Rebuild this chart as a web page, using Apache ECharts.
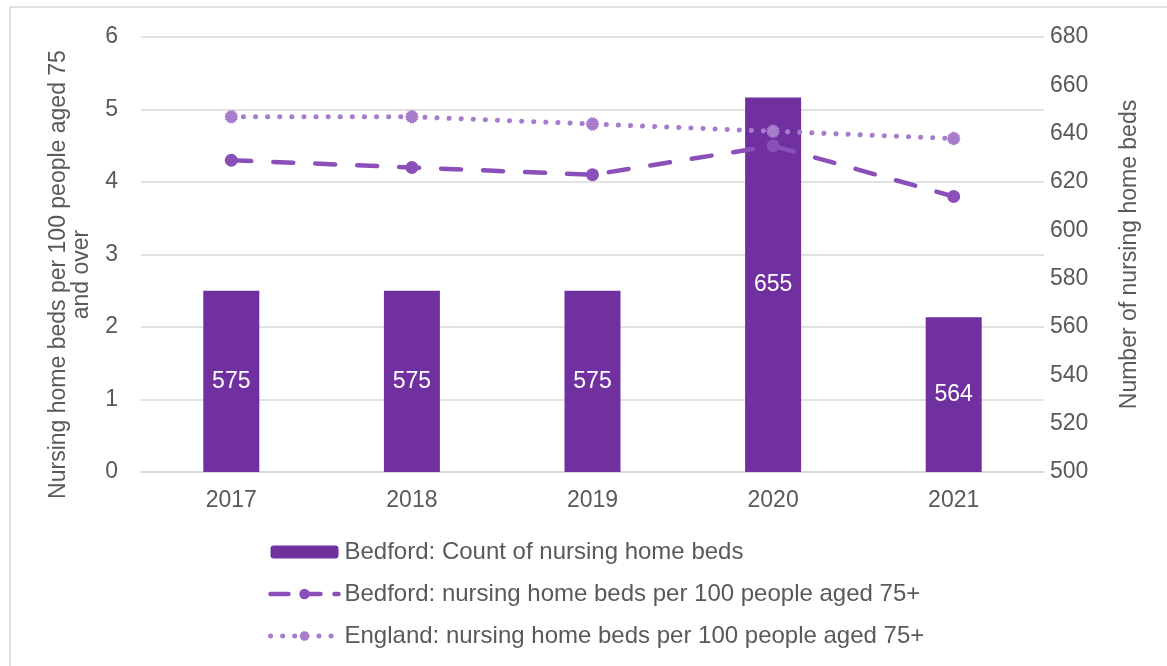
<!DOCTYPE html>
<html>
<head>
<meta charset="utf-8">
<script src="https://cdn.jsdelivr.net/npm/echarts@6/dist/echarts.min.js"></script>
<style>
  body { margin: 0; background: #fff; }
</style>
</head>
<body>
<div id="chart" style="width:1167px;height:666px;"></div>
<script>
const years = ["2017", "2018", "2019", "2020", "2021"];
const bedfordCount = [575, 575, 575, 655, 564];
const bedfordRate = [4.3, 4.2, 4.1, 4.5, 3.8];
const englandRate = [4.9, 4.9, 4.8, 4.7, 4.6];

const labelColor = "#595959";
const gridColor = "#d9d9d9";
const font = "Liberation Sans, Arial, sans-serif";
const bedfordColor = "#8B4FBA";
const englandColor = "#A87CCC";

// spiky round marker like the one used for England
function spikyPath() {
  let d = "";
  const n = 14;
  for (let i = 0; i < n * 2; i++) {
    const r = i % 2 === 0 ? 10 : 8.2;
    const a = (Math.PI * i) / n;
    d += (i === 0 ? "M" : "L") + (10 + r * Math.cos(a)).toFixed(2) + "," + (10 + r * Math.sin(a)).toFixed(2);
  }
  return "path://" + d + "Z";
}
const spiky = spikyPath();

const myChart = echarts.init(document.getElementById("chart"));

const option = {
  animation: false,
  textStyle: { fontFamily: font },
  graphic: [
    {
      type: "rect",
      shape: { x: 10, y: 7, width: 1300, height: 800 },
      style: { fill: "none", stroke: gridColor, lineWidth: 1.5 },
      silent: true
    }
  ],
  grid: { left: 141, right: 123, top: 37, bottom: 194, outerBoundsMode: "none", containLabel: false },
  legend: {
    orient: "vertical",
    left: 268,
    top: 540,
    padding: 0,
    itemWidth: 68,
    itemHeight: 13,
    itemGap: 18,
    textStyle: { color: labelColor, fontSize: 24, fontFamily: font, padding: [0, 0, 0, 1] },
    data: [
      { name: "Bedford: Count of nursing home beds" },
      {
        name: "Bedford: nursing home beds per 100 people aged 75+",
        lineStyle: { width: 4.5, type: [18, 14], cap: "round", color: bedfordColor }
      },
      {
        name: "England: nursing home beds per 100 people aged 75+",
        lineStyle: { width: 5, type: [0.1, 12], cap: "round", color: englandColor }
      }
    ]
  },
  xAxis: {
    type: "category",
    data: years,
    axisLine: { lineStyle: { color: gridColor, width: 1.5 } },
    axisTick: { show: false },
    axisLabel: { color: labelColor, fontSize: 23, margin: 17 }
  },
  yAxis: [
    {
      type: "value",
      min: 0,
      max: 6,
      interval: 1,
      name: "Nursing home beds per 100 people aged 75\nand over",
      nameLocation: "middle",
      nameGap: 48,
      nameTextStyle: { color: labelColor, fontSize: 23, lineHeight: 23, padding: [0, 40, 0, 0] },
      axisLine: { show: false },
      axisTick: { show: false },
      axisLabel: { color: labelColor, fontSize: 23, margin: 23 },
      splitLine: { lineStyle: { color: gridColor, width: 1.5 } }
    },
    {
      type: "value",
      min: 500,
      max: 680,
      interval: 20,
      name: "Number of nursing home beds",
      nameLocation: "middle",
      nameGap: 74,
      nameTextStyle: { color: labelColor, fontSize: 23 },
      axisLine: { show: false },
      axisTick: { show: false },
      axisLabel: { color: labelColor, fontSize: 23, margin: 6 },
      splitLine: { show: false }
    }
  ],
  series: [
    {
      name: "Bedford: Count of nursing home beds",
      type: "bar",
      yAxisIndex: 1,
      data: bedfordCount,
      barWidth: 56,
      itemStyle: { color: "#7030A0" },
      label: {
        show: true,
        position: "inside",
        color: "#fff",
        fontSize: 23
      },
      z: 1
    },
    {
      name: "Bedford: nursing home beds per 100 people aged 75+",
      type: "line",
      yAxisIndex: 0,
      data: bedfordRate,
      symbol: "circle",
      symbolSize: 13,
      lineStyle: { color: bedfordColor, width: 4.5, type: [20, 22], cap: "round" },
      itemStyle: { color: bedfordColor },
      z: 3
    },
    {
      name: "England: nursing home beds per 100 people aged 75+",
      type: "line",
      yAxisIndex: 0,
      data: englandRate,
      symbol: spiky,
      symbolSize: 14,
      lineStyle: { color: englandColor, width: 5, type: [0.1, 12], cap: "round" },
      itemStyle: { color: englandColor },
      z: 3
    }
  ]
};

myChart.setOption(option);
</script>
</body>
</html>
